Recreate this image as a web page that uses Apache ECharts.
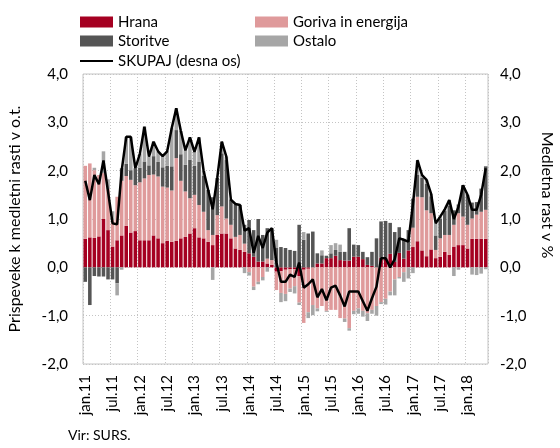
<!DOCTYPE html>
<html>
<head>
<meta charset="utf-8">
<script src="https://cdn.jsdelivr.net/npm/echarts@6/dist/echarts.min.js"></script>
<style>
  html, body { margin: 0; padding: 0; background: #fff; }
  #chart { width: 560px; height: 448px; }
</style>
</head>
<body>
<div id="chart"></div>
<script>
  // meseci jan.11 - maj.18
  var months = ['jan', 'feb', 'mar', 'apr', 'maj', 'jun', 'jul', 'avg', 'sep', 'okt', 'nov', 'dec'];
  var categories = [];
  for (var y = 11; y <= 18; y++) {
    for (var m = 0; m < 12; m++) {
      if (y === 18 && m > 4) break;
      categories.push(months[m] + '.' + y);
    }
  }

  var hrana = [
    0.59, 0.62, 0.61, 0.64, 1.0, 0.77, 0.43, 0.56, 0.66, 0.86, 0.72, 0.75,
    0.56, 0.56, 0.56, 0.66, 0.6, 0.5, 0.55, 0.53, 0.55, 0.6, 0.63, 0.7,
    0.81, 0.62, 0.6, 0.53, 0.46, 0.67, 0.7, 0.7, 0.6, 0.39, 0.36, 0.32,
    0.29, 0.22, 0.12, 0.12, 0.08, 0.05, -0.09, -0.08, -0.05, -0.04, -0.04, -0.18,
    -0.05, -0.03, 0, 0.08, 0.08, 0.19, 0.19, 0.24, 0.15, 0.14, 0.14, 0.22,
    0.22, 0.17, 0.05, 0.03, 0, 0.2, 0.2, 0.28, 0.11, 0.3, 0.18, 0.35,
    0.42, 0.54, 0.35, 0.23, 0.37, 0.19, 0.22, 0.32, 0.26, 0.43, 0.46, 0.46,
    0.39, 0.59, 0.59, 0.59, 0.59
  ];
  var goriva = [
    1.51, 1.53, 1.4, 1.27, 0.95, 0.85, 0.55, 0.9, 1.13, 1.03, 1.09, 0.95,
    1.2, 1.28, 1.35, 1.26, 1.28, 1.17, 1.1, 1.06, 1.71, 1.19, 0.94, 0.73,
    0.69, 0.67, 0.55, 0.24, 0.21, 0.41, 0.56, 0.31, 0.28, 0.24, 0.31, 0.17,
    -0.1, -0.4, -0.3, -0.2, 0.1, 0.1, -0.38, -0.45, -0.5, -0.4, -0.35, -0.55,
    -1.1, -0.9, -0.78, -0.85, -0.8, -0.9, -0.88, -0.88, -1.05, -1.06, -1.26, -0.9,
    -0.85, -0.9, -0.95, -0.88, -0.8, -0.72, -0.65, -0.5, -0.25, -0.2, -0.1, 0,
    0.4, 0.92, 1.1, 0.95, 0.75, 0.17, 0.38, 0.35, 0.41, 0.45, 0.66, 0.59,
    0.49, 0.42, 0.5, 0.56, 0.6
  ];
  var storitve = [
    -0.3, -0.78, -0.18, -0.19, -0.19, -0.25, -0.25, -0.33, 0.26, 0.25, 0.2, 0.35,
    0.3, 0.35, 0.2, 0.38, 0.3, 0.4, 0.45, 0.5, 0.58, 0.55, 0.55, 0.8,
    0.6, 0.9, 0.75, 0.83, 0.78, 0.77, 1.1, 1.21, 0.52, 0.66, 0.62, 0.39,
    0.69, 0.55, 0.88, 0.55, 0.63, 0.66, 0.4, 0.42, 0.4, 0.36, 0.34, 0.88,
    0.57, 0.7, 0.74, 0.21, 0.17, 0.05, 0.1, 0.12, 0.17, 0.18, 0.67, 0.25,
    0.24, 0.15, 0.16, 0.29, 0.6, 0.75, 0.76, 0.64, 0.62, 0.53, 0.41, 0.42,
    0.6, 0.45, 0.4, 0.55, 0.35, 0.3, 0.4, 0.5, 0.6, 0.3, 0.18, 0.65,
    0.62, 0.33, 0.26, 0.48, 0.9
  ];
  var ostalo = [
    0, 0, 0.05, 0, 0.45, 0.2, 0.18, -0.25, -0.05, 0.56, 0.69, 0,
    0.29, 0.72, 0.18, 0.3, 0.22, 0.23, 0.3, 0.79, 0.45, 0.48, 0.3, 0.46,
    0.29, 0.5, 0.1, 0, -0.26, 0, 0.24, 0.07, 0, 0.02, 0, -0.12,
    -0.07, -0.07, -0.05, -0.07, -0.09, 0, 0.17, -0.19, -0.15, -0.07, -0.15, -0.05,
    0.16, -0.12, -0.21, -0.06, 0.1, -0.02, 0.17, 0.14, 0.15, -0.07, -0.05, -0.07,
    -0.11, -0.12, -0.16, -0.08, -0.2, -0.04, -0.12, -0.08, -0.33, -0.03, -0.2, -0.23,
    -0.12, 0.3, 0.06, 0.08, 0.05, 0.25, 0.05, 0.03, 0.12, -0.18, -0.05, 0,
    0, -0.15, -0.16, -0.13, -0.04
  ];
  var skupaj = [
    1.79, 1.39, 1.91, 1.72, 2.21, 1.57, 0.91, 0.89, 2.0, 2.7, 2.7, 2.05,
    2.35, 2.91, 2.29, 2.6, 2.4, 2.3, 2.4, 2.88, 3.29, 2.82, 2.42, 2.69,
    2.39, 2.69, 2.0, 1.6, 1.2, 1.85, 2.6, 2.29, 1.4, 1.31, 1.29, 0.76,
    0.81, 0.3, 0.65, 0.4, 0.72, 0.81, 0.1, -0.3, -0.3, -0.15, -0.2, 0.1,
    -0.42, -0.35, -0.25, -0.62, -0.45, -0.68, -0.42, -0.38, -0.58, -0.81, -0.5, -0.5,
    -0.5, -0.7, -0.9, -0.64, -0.4, 0.19, 0.19, 0, 0.17, 0.6, 0.57, 0.53,
    1.3, 2.22, 1.91, 1.81, 1.52, 0.91, 1.05, 1.2, 1.39, 1.0, 1.25, 1.7,
    1.5, 1.19, 1.19, 1.5, 2.05
  ];

  var font = 'Lato';
  var fmt = function (v) { return v.toFixed(1).replace('.', ','); };

  var yAxisBase = {
    type: 'value',
    min: -2,
    max: 4,
    interval: 1,
    axisLine: { show: false },
    axisTick: { show: false },
    axisLabel: { color: '#000', fontSize: 15, fontFamily: font, formatter: fmt }
  };

  var bar = function (name, data, color) {
    return {
      name: name,
      type: 'bar',
      stack: 'prispevki',
      data: data,
      barCategoryGap: '22%',
      itemStyle: { color: color },
      emphasis: { disabled: true }
    };
  };

  var legendText = { color: '#000', fontSize: 15, fontFamily: font, lineHeight: 18 };
  var leg = function (name, left, top) {
    return {
      data: [name],
      left: left,
      top: top,
      itemWidth: 33,
      itemHeight: 11,
      icon: 'rect',
      selectedMode: false,
      textStyle: legendText
    };
  };
  var lineLeg = leg('SKUPAJ (desna os)', 75, 47);
  lineLeg.itemHeight = 2;

  var option = {
    animation: false,
    legend: [
      leg('Hrana', 75, 8),
      leg('Storitve', 75, 27),
      lineLeg,
      leg('Goriva in energija', 250, 8),
      leg('Ostalo', 250, 27)
    ],
    grid: {
      left: 83,
      right: 72,
      top: 74,
      bottom: 84,
      show: true,
      borderColor: '#c4c4c4',
      borderWidth: 1
    },
    xAxis: {
      type: 'category',
      data: categories,
      axisLine: { show: false },
      axisTick: { show: false },
      axisLabel: {
        interval: 5,
        rotate: 90,
        margin: 11,
        color: '#000',
        fontSize: 15,
        fontFamily: font
      },
      splitLine: {
        show: true,
        interval: 5,
        lineStyle: { color: '#c4c4c4', type: [1, 2] }
      }
    },
    yAxis: [
      Object.assign({}, yAxisBase, {
        position: 'left',
        axisLabel: Object.assign({}, yAxisBase.axisLabel, { margin: 15 }),
        splitLine: { lineStyle: { color: '#c4c4c4', type: [1, 2] } }
      }),
      Object.assign({}, yAxisBase, {
        position: 'right',
        axisLabel: Object.assign({}, yAxisBase.axisLabel, { margin: 12 }),
        splitLine: { show: false }
      })
    ],
    graphic: [
      {
        type: 'text',
        x: 15,
        y: 219,
        rotation: Math.PI / 2,
        style: {
          text: 'Prispeveke k medletni rasti v o.t.',
          font: '16px ' + font,
          fill: '#000',
          align: 'center',
          verticalAlign: 'middle'
        }
      },
      {
        type: 'text',
        x: 547,
        y: 195,
        rotation: -Math.PI / 2,
        style: {
          text: 'Medletna rast v %',
          font: '16px ' + font,
          fill: '#000',
          align: 'center',
          verticalAlign: 'middle'
        }
      },
      {
        type: 'text',
        left: 68,
        top: 428,
        style: { text: 'Vir: SURS.', font: '14px ' + font, fill: '#000' }
      }
    ],
    series: [
      bar('Hrana', hrana, '#a50021'),
      bar('Goriva in energija', goriva, '#df9a9b'),
      bar('Storitve', storitve, '#555555'),
      bar('Ostalo', ostalo, '#a6a6a6'),
      {
        name: 'SKUPAJ (desna os)',
        type: 'line',
        yAxisIndex: 1,
        data: skupaj,
        symbol: 'none',
        lineStyle: { color: '#000', width: 2.5 },
        itemStyle: { color: '#000' },
        emphasis: { disabled: true },
        z: 5
      }
    ]
  };

  var myChart = echarts.init(document.getElementById('chart'));
  myChart.setOption(option);
</script>
</body>
</html>
